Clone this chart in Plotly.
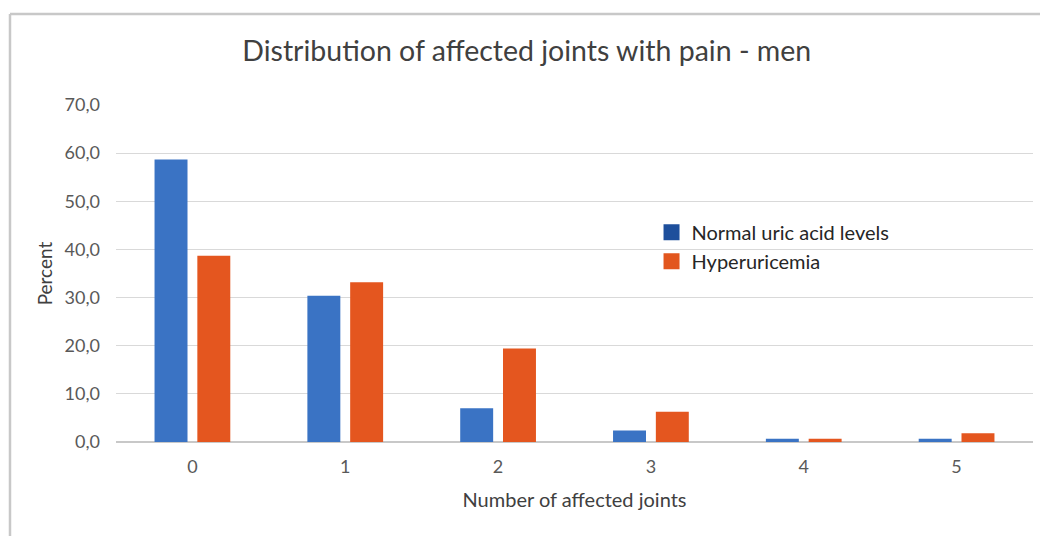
import plotly.graph_objects as go

joints = ["0", "1", "2", "3", "4", "5"]
normal_uric = [58.7, 30.4, 7.0, 2.4, 0.7, 0.7]
hyperuricemia = [38.7, 33.2, 19.4, 6.3, 0.7, 1.8]
y_ticks = [0, 10, 20, 30, 40, 50, 60, 70]

series_names = ["Normal uric acid levels", "Hyperuricemia"]
bar_colors = ["#3a73c4", "#e4561f"]
key_colors = ["#1e4f9c", "#e2561e"]

FONT = "Lato, 'Open Sans', sans-serif"

fig = go.Figure()
for name, vals, col in zip(series_names, [normal_uric, hyperuricemia], bar_colors):
    fig.add_trace(go.Bar(x=joints, y=vals, name=name, showlegend=False,
                         marker=dict(color=col, line=dict(width=0))))

# legend keys drawn as large square swatches
for name, col in zip(series_names, key_colors):
    fig.add_trace(go.Scatter(x=[None], y=[None], mode="markers", name=name,
                             marker=dict(symbol="square", size=21, color=col),
                             showlegend=True))

fig.update_layout(
    width=1040, height=536,
    margin=dict(l=116, r=7, t=105, b=94),
    paper_bgcolor="white", plot_bgcolor="white",
    separators=",.",
    barmode="group", bargap=0.44, bargroupgap=0.23,
    title=dict(text="Distribution of affected joints with pain - men",
               x=0.5065, xanchor="center", y=0.905, yanchor="middle",
               font=dict(family=FONT, size=28.5, color="#404040")),
    font=dict(family=FONT, color="#595959"),
    legend=dict(x=0.584, y=0.68, xanchor="left", yanchor="top",
                bgcolor="rgba(0,0,0,0)", tracegroupgap=0, itemwidth=30,
                font=dict(family=FONT, size=20, color="#262626")),
    showlegend=True,
)
fig.update_xaxes(
    type="category", showgrid=False, showline=False, ticks="",
    ticklabelstandoff=12,
    tickfont=dict(size=18, color="#595959"),
    title=dict(text="Number of affected joints", standoff=16,
               font=dict(size=20, color="#404040")),
)
fig.update_yaxes(
    range=[0, 70], tickvals=y_ticks, tickformat=".1f",
    showgrid=True, gridcolor="#d9d9d9", gridwidth=1,
    zeroline=True, zerolinecolor="#c8c8c8", zerolinewidth=1.5,
    showline=False, ticks="", ticklabelstandoff=15,
    tickfont=dict(size=18, color="#595959"),
    title=dict(text="Percent", standoff=6,
               font=dict(size=19, color="#404040")),
)

# chart frame edges along the top and left
fig.add_shape(type="line", xref="paper", yref="paper",
              x0=-0.1156, x1=1.01, y0=1.270, y1=1.270,
              line=dict(color="#c8c8c8", width=2.5))
fig.add_shape(type="line", xref="paper", yref="paper",
              x0=-0.1156, x1=-0.1156, y0=-0.3, y1=1.270,
              line=dict(color="#c8c8c8", width=2.5))

fig.write_html("out.html")
